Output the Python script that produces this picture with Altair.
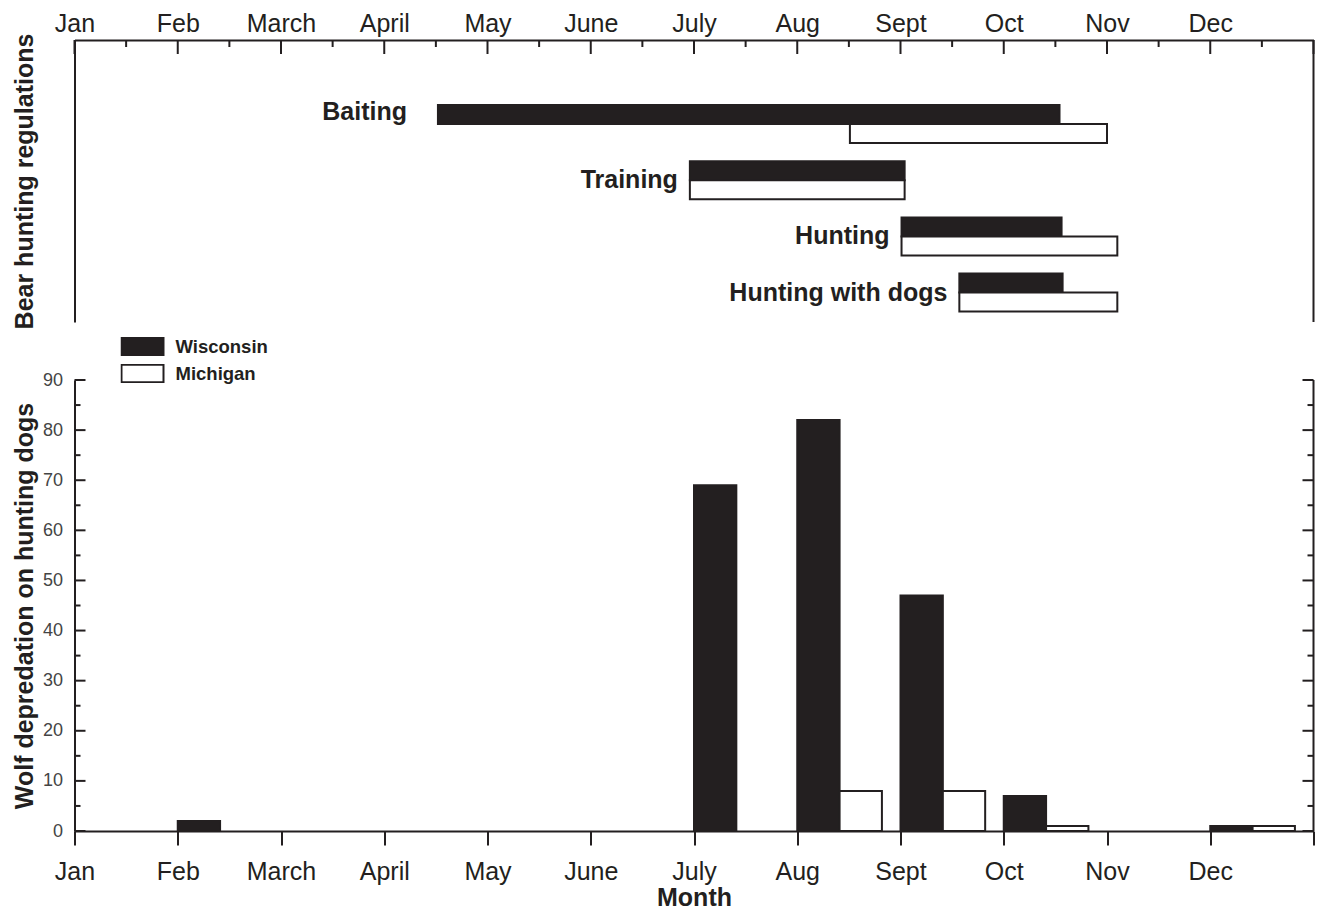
import json
import altair as alt
import pandas as pd

FONT = "Liberation Sans, Arial, Helvetica, sans-serif"
INK = "#231f20"
FS = 25

# ---------------- data ----------------
months = ["Jan", "Feb", "March", "April", "May", "June",
          "July", "Aug", "Sept", "Oct", "Nov", "Dec"]
states = ["Wisconsin", "Michigan"]

# Bear hunting regulation seasons, in months from 1 January
activities = ["Baiting", "Training", "Hunting", "Hunting with dogs"]
wi_start = [3.52, 5.96, 8.01, 8.57]
wi_end = [9.54, 8.04, 9.56, 9.57]
mi_start = [7.51, 5.96, 8.01, 8.57]
mi_end = [10.00, 8.04, 10.10, 10.10]

# Wolf depredation on hunting dogs, per month
wi_dogs = [0, 2, 0, 0, 0, 0, 69, 82, 47, 7, 0, 1]
mi_dogs = [0, 0, 0, 0, 0, 0, 0, 8, 8, 1, 0, 1]

# axis ticks
month_ticks = list(range(13))
half_month_ticks = [m + 0.5 for m in range(12)]
y_major = list(range(0, 100, 10))
y_minor = list(range(5, 90, 10))

# ---------------- layout constants ----------------
W = 1239
H_TOP = 282
H_BOT = 451
BAR_W = 0.41

seasons = pd.DataFrame({
    "activity": activities * 2,
    "state": ["Wisconsin"] * len(activities) + ["Michigan"] * len(activities),
    "start": wi_start + mi_start,
    "end": wi_end + mi_end,
})
labels_df = pd.DataFrame({"activity": activities, "start": wi_start})

rows = []
for i in range(len(months)):
    rows.append({"month": months[i], "state": "Wisconsin", "count": wi_dogs[i],
                 "x0": i, "x1": i + BAR_W})
    rows.append({"month": months[i], "state": "Michigan", "count": mi_dogs[i],
                 "x0": i + BAR_W, "x1": i + 2 * BAR_W})
dep = pd.DataFrame(rows)

major_df = pd.DataFrame({"t": month_ticks})
minor_df = pd.DataFrame({"t": half_month_ticks})
ymaj_df = pd.DataFrame({"v": y_major})
ymin_df = pd.DataFrame({"v": y_minor})
one = pd.DataFrame({"k": [0]})

label_expr = "datum.value < 12 ? " + json.dumps(months) + "[datum.value] : ''"


def xs():
    return alt.Scale(domain=[0, 12], nice=False, zero=False)


def ys():
    return alt.Scale(domain=[0, 90], nice=False, zero=True)


fill_scale = alt.Scale(domain=states, range=[INK, "white"])

# ---------------- top panel ----------------
band = alt.Scale(paddingInner=0.324, paddingOuter=0.671, align=0.862)

top_bars = alt.Chart(seasons).mark_bar(stroke=INK, strokeWidth=2).encode(
    x=alt.X("start:Q", scale=xs(), axis=alt.Axis(
        orient="top", values=month_ticks, labelExpr=label_expr, ticks=False,
        labelPadding=4, labelFlush=False, labelOverlap=False, labelFontSize=FS,
        labelColor=INK, labelFont=FONT, domainColor=INK, domainWidth=2,
        title=None, grid=False)),
    x2="end:Q",
    y=alt.Y("activity:N", sort=activities, scale=band, axis=alt.Axis(
        labels=False, ticks=False, title="Bear hunting regulations",
        titleX=-50.5, titleBaseline="middle", titleFontSize=FS,
        titleFontWeight="bold", titleColor=INK, titleFont=FONT,
        domainColor=INK, domainWidth=2, grid=False)),
    yOffset=alt.YOffset("state:N", sort=states),
    fill=alt.Fill("state:N", scale=fill_scale, legend=None),
)

lab_base = alt.Chart(labels_df).encode(
    x=alt.X("start:Q", scale=xs(), axis=None),
    y=alt.Y("activity:N", sort=activities, scale=band, axis=None),
    text="activity:N",
)
baiting_lab = lab_base.transform_filter(alt.datum.activity == "Baiting").mark_text(
    align="right", baseline="middle", dx=-31, dy=-12, fontSize=FS,
    fontWeight="bold", color=INK, font=FONT)
other_lab = lab_base.transform_filter(alt.datum.activity != "Baiting").mark_text(
    align="right", baseline="middle", dx=-12, fontSize=FS,
    fontWeight="bold", color=INK, font=FONT)

top_major = alt.Chart(major_df).mark_rule(color=INK, strokeWidth=2).encode(
    x=alt.X("t:Q", scale=xs(), axis=None), y=alt.value(0), y2=alt.value(14))
top_minor = alt.Chart(minor_df).mark_rule(color=INK, strokeWidth=2).encode(
    x=alt.X("t:Q", scale=xs(), axis=None), y=alt.value(0), y2=alt.value(7))
top_right = alt.Chart(one).mark_rule(color=INK, strokeWidth=2).encode(
    x=alt.value(W), y=alt.value(0), y2=alt.value(H_TOP))

top = alt.layer(top_bars, baiting_lab, other_lab, top_major, top_minor,
                top_right).resolve_axis(x="independent", y="independent"
                                        ).properties(width=W, height=H_TOP)

# ---------------- bottom panel ----------------
bars = alt.Chart(dep).transform_filter("datum.count > 0").mark_bar(
    stroke=INK, strokeWidth=2).encode(
    x=alt.X("x0:Q", scale=xs(), axis=alt.Axis(
        orient="bottom", values=month_ticks, labelExpr=label_expr,
        tickSize=14, tickWidth=2, tickColor=INK, labelPadding=14,
        labelFlush=False, labelOverlap=False, labelFontSize=FS,
        labelColor=INK, labelFont=FONT, domainColor=INK, domainWidth=2,
        title="Month", titleFontSize=FS, titleFontWeight="bold",
        titleColor=INK, titleFont=FONT, titlePadding=1, grid=False)),
    x2="x1:Q",
    y=alt.Y("count:Q", scale=ys(), axis=alt.Axis(
        values=y_major, ticks=False, labelPadding=12, labelFontSize=18,
        labelColor="#444444", labelFont=FONT, domainColor=INK, domainWidth=2,
        title="Wolf depredation on hunting dogs", titleX=-50.5,
        titleBaseline="middle", titleFontSize=FS, titleFontWeight="bold",
        titleColor=INK, titleFont=FONT, grid=False)),
    y2=alt.datum(0),
    fill=alt.Fill("state:N", scale=fill_scale, legend=alt.Legend(
        orient="none", legendX=46, legendY=-43, direction="vertical",
        title=None, symbolType="M-1,-0.42H1V0.42H-1Z", symbolSize=1764,
        clipHeight=19, rowPadding=8, labelOffset=11, padding=0,
        labelFont=FONT, labelFontSize=18.5, labelFontWeight="bold",
        labelColor=INK, labelBaseline="middle",
        symbolStrokeColor=INK, symbolStrokeWidth=2)),
)

left_major = alt.Chart(ymaj_df).mark_rule(color=INK, strokeWidth=2).encode(
    y=alt.Y("v:Q", scale=ys(), axis=None), x=alt.value(0), x2=alt.value(11))
left_minor = alt.Chart(ymin_df).mark_rule(color=INK, strokeWidth=2).encode(
    y=alt.Y("v:Q", scale=ys(), axis=None), x=alt.value(0), x2=alt.value(6))
right_major = alt.Chart(ymaj_df).mark_rule(color=INK, strokeWidth=2).encode(
    y=alt.Y("v:Q", scale=ys(), axis=None), x=alt.value(W - 11), x2=alt.value(W))
right_minor = alt.Chart(ymin_df).mark_rule(color=INK, strokeWidth=2).encode(
    y=alt.Y("v:Q", scale=ys(), axis=None), x=alt.value(W - 6), x2=alt.value(W))
bot_right = alt.Chart(one).mark_rule(color=INK, strokeWidth=2).encode(
    x=alt.value(W), y=alt.value(0), y2=alt.value(H_BOT))

bottom = alt.layer(bars, left_major, left_minor, right_major, right_minor,
                   bot_right).resolve_axis(x="independent", y="independent"
                                           ).properties(width=W, height=H_BOT)

chart = alt.vconcat(top, bottom, spacing=58, bounds="flush").resolve_scale(
    fill="independent", x="independent", y="independent"
).properties(
    padding={"left": 3.5, "top": 3, "right": 0, "bottom": 0}
).configure(font=FONT).configure_view(stroke=None)

chart.save("out.html", embed_options={"renderer": "svg", "actions": False})
